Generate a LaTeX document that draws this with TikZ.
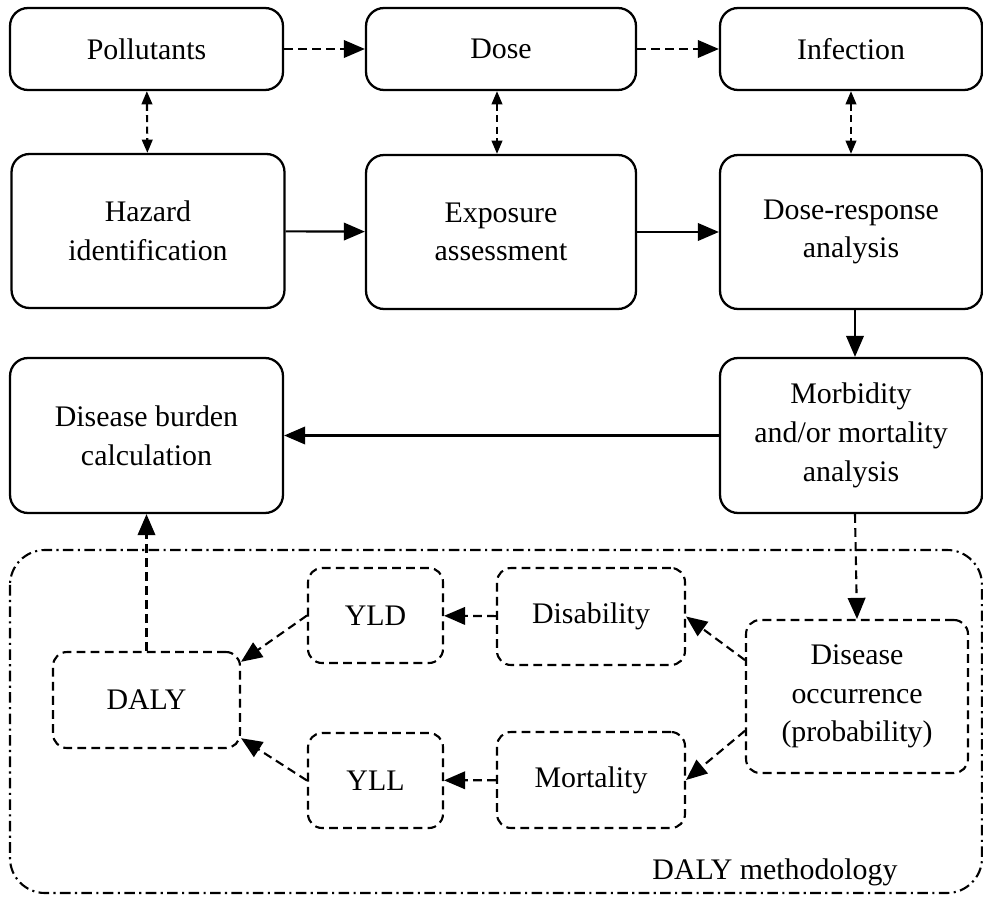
\documentclass[tikz,border=0pt]{standalone}
\usepackage{fontspec}
\setmainfont{Liberation Serif}
\usetikzlibrary{arrows.meta}
\tikzset{
  solidbox/.style={draw, line width=1.3pt, rounded corners=0.36cm, align=center, inner sep=0pt},
  dashbox/.style={draw, line width=1.2pt, rounded corners=0.28cm, align=center, inner sep=0pt, dash pattern=on 5pt off 3pt},
  flow/.style={line width=1.2pt, -{Triangle[length=12pt,width=10pt]}},
  dflow/.style={flow, dash pattern=on 5pt off 3pt},
  pairflow/.style={line width=1.2pt, dash pattern=on 4pt off 2.5pt, {Triangle[length=7.5pt,width=6pt]}-{Triangle[length=7.5pt,width=6pt]}}
}
\begin{document}
\begin{tikzpicture}[x=0.02cm, y=-0.02cm, font=\fontsize{17}{22}\selectfont]
			%%%%% START %%%%%
			\useasboundingbox (0,0) rectangle (983,898);
			
			% top row
			\node[solidbox, minimum width=5.46cm, minimum height=1.64cm] (pollut) at (146.5, 49) {Pollutants};
			\node[solidbox, minimum width=5.40cm, minimum height=1.64cm] (dose) at (501, 49) {Dose};
			\node[solidbox, minimum width=5.24cm, minimum height=1.64cm] (infect) at (851, 49) {Infection};
			
			% risk assessment steps
			\node[solidbox, minimum width=5.46cm, minimum height=3.08cm] (hazard) at (148, 231) {Hazard\\identification};
			\node[solidbox, minimum width=5.40cm, minimum height=3.08cm] (expo) at (501, 232) {Exposure\\assessment};
			\node[solidbox, minimum width=5.24cm, minimum height=3.08cm] (doseresp) at (851, 232) {Dose-response\\analysis};
			\node[solidbox, minimum width=5.24cm, minimum height=3.10cm] (morb) at (851, 435.5) {Morbidity\\and/or mortality\\analysis};
			\node[solidbox, minimum width=5.46cm, minimum height=3.10cm] (burden) at (146.5, 435.5) {Disease burden\\calculation};
			
			% DALY methodology
			\draw[line width=1.2pt, rounded corners=0.7cm, dash pattern=on 6pt off 2.5pt on 1.2pt off 2.5pt] (10, 550) rectangle (982, 893);
			\node (methlabel) at (775, 872) {DALY methodology};
			
			\node[dashbox, minimum width=3.74cm, minimum height=1.92cm] (daly) at (146.5, 700) {DALY};
			\node[dashbox, minimum width=2.70cm, minimum height=1.90cm] (yld) at (375.5, 615.5) {YLD};
			\node[dashbox, minimum width=2.70cm, minimum height=1.90cm] (yll) at (375.5, 780.5) {YLL};
			\node[dashbox, minimum width=3.76cm, minimum height=1.94cm] (disab) at (591, 616.5) {Disability};
			\node[dashbox, minimum width=3.76cm, minimum height=1.92cm] (mortal) at (591, 780) {Mortality};
			\node[dashbox, minimum width=4.44cm, minimum height=3.06cm] (occur) at (857, 696.5) {Disease\\occurrence\\(probability)};
			
			% connectors
			\draw[dflow] (pollut) -- (dose);
			\draw[dflow] (dose) -- (infect);
			\draw[pairflow] (pollut) -- (hazard);
			\draw[pairflow] ([xshift=-0.08cm]dose.south) -- ([xshift=-0.08cm]expo.north);
			\draw[pairflow] (infect) -- (doseresp);
			\draw[flow] (hazard) -- (expo);
			\draw[flow] (expo) -- (doseresp);
			\draw[flow] ([xshift=0.08cm]doseresp.south) -- ([xshift=0.08cm]morb.north);
			\draw[flow] (morb) -- (burden);
			\draw[dflow] ([xshift=0.08cm]morb.south) -- (occur.north);
			\draw[dflow] (daly) -- (burden);
			\draw[dflow] (occur.162) -- (disab.east);
			\draw[dflow] (occur.197) -- (mortal.east);
			\draw[dflow] (disab) -- (yld);
			\draw[dflow] (mortal) -- (yll);
			\draw[dflow] (yld.west) -- (daly.22);
			\draw[dflow] (yll.west) -- (daly.-22);
			
			%%%%% END %%%%%
\end{tikzpicture}
\end{document}
